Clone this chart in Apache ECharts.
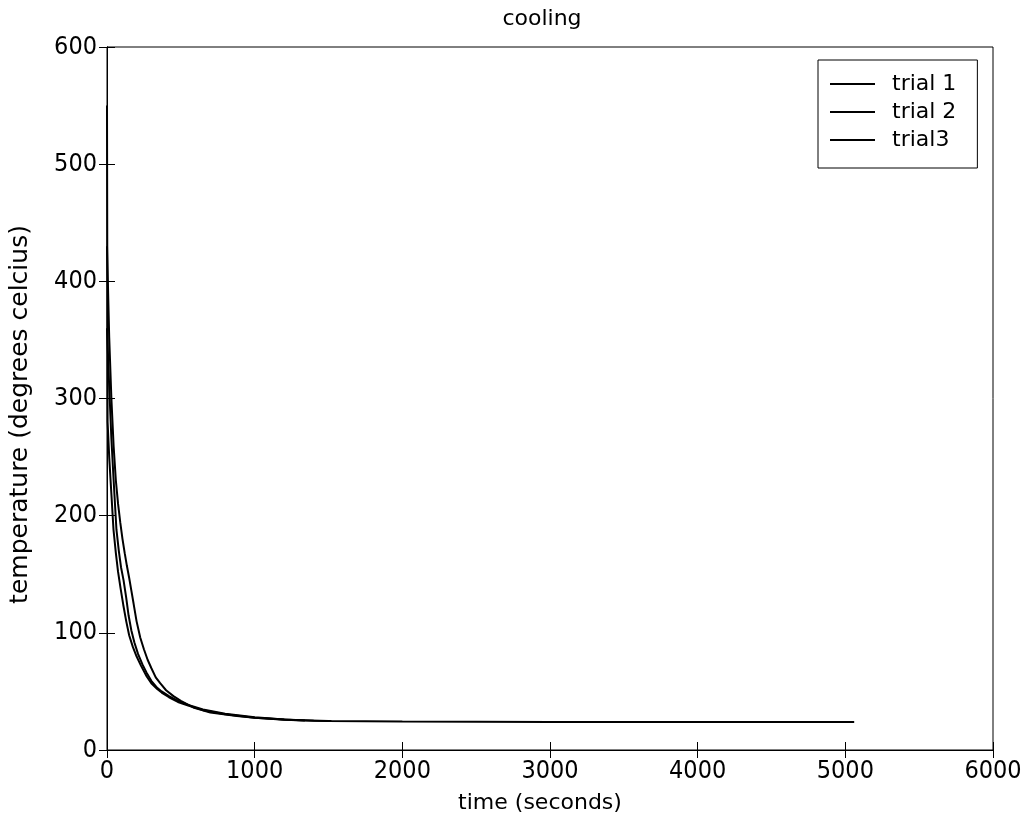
<!DOCTYPE html>
<html>
<head>
<meta charset="utf-8">
<script src="https://cdn.jsdelivr.net/npm/echarts@6/dist/echarts.min.js"></script>
<style>html,body{margin:0;padding:0;background:#fff;}#c{width:1025px;height:826px;}</style>
</head>
<body>
<div id="c"></div>
<script>
// ---- data (time in seconds, temperature in degrees celcius) ----
const seriesNames = ['trial 1', 'trial 2', 'trial3'];

const time1 = [0, 15, 30, 45, 60, 75, 90, 105, 120, 135, 150, 165, 180, 200, 225, 250, 275, 300, 330, 360, 400, 450, 500, 590, 700, 880, 1000, 1260, 1500, 2000, 3000, 4000, 5060];
const temp1 = [430, 352, 299, 259, 230, 210, 194, 180, 168, 157, 147, 136, 125, 110, 96, 86, 77, 70, 62, 57, 51, 46, 42, 36, 32, 29, 27.5, 25.5, 24.8, 24.3, 24, 24, 24];

const time2 = [0, 4, 15, 30, 44, 60, 75, 92, 110, 130, 150, 175, 200, 230, 268, 300, 340, 370, 420, 480, 550, 650, 800, 1000, 1200, 1340];
const temp2 = [550, 280, 250, 218, 188, 168, 152, 138, 124, 110, 98, 88, 80, 72, 63, 57, 52, 49, 45, 41, 38, 34, 30.5, 27.5, 25.8, 25.2];

const time3 = [0, 15, 30, 45, 64, 80, 95, 112, 130, 146, 165, 185, 210, 240, 268, 300, 340, 370, 420, 480, 550, 650, 800, 1000, 1200, 1400, 1520];
const temp3 = [360, 310, 265, 230, 188, 170, 156, 145, 130, 115, 102, 92, 82, 73, 66, 59, 53, 50, 46, 42, 38.5, 34.5, 31, 28, 26, 25, 24.8];

const titleText = 'cooling';
const xName = 'time (seconds)';
const yName = 'temperature (degrees celcius)';

function zip(t, v) { return t.map((x, i) => [x, v[i]]); }
const allData = [zip(time1, temp1), zip(time2, temp2), zip(time3, temp3)];

const tickFont = '"DejaVu Sans Condensed", "Liberation Sans", Arial, sans-serif';
const textFont = '"DejaVu Sans", "Liberation Sans", Arial, sans-serif';
const chart = echarts.init(document.getElementById('c'), null, { renderer: 'canvas' });

const gridPos = { left: 107, right: 32, top: 47, bottom: 76 };
const plain = v => String(v);

const option = {
  animation: false,
  backgroundColor: '#fff',
  title: {
    text: titleText,
    left: 537, top: 3,
    textAlign: 'center',
    textStyle: { fontFamily: textFont, fontSize: 22, fontWeight: 'normal', color: '#000' }
  },
  legend: {
    orient: 'vertical',
    left: 818, top: 60,
    padding: [13, 21, 17, 12],
    borderColor: '#000', borderWidth: 1,
    backgroundColor: '#fff',
    itemWidth: 45, itemHeight: 2, itemGap: 6,
    icon: 'rect',
    data: seriesNames,
    textStyle: { fontFamily: textFont, fontSize: 22, color: '#000', padding: [0, 0, 0, 12] }
  },
  grid: Object.assign({ show: true, borderColor: '#000', borderWidth: 1, containLabel: false }, gridPos),
  xAxis: [{
    type: 'value', min: 0, max: 6000, interval: 1000,
    position: 'bottom',
    name: xName, nameLocation: 'middle', nameGap: 42,
    nameTextStyle: { fontFamily: textFont, fontSize: 22, color: '#000', padding: [0, 20, 0, 0] },
    axisLine: { show: true, lineStyle: { color: '#000', width: 1 } },
    axisTick: { show: true, inside: true, length: 8, lineStyle: { color: '#000' } },
    axisLabel: { fontFamily: tickFont, fontSize: 25, color: '#000', margin: 9, formatter: plain },
    splitLine: { show: false }
  }, {
    type: 'value', min: 0, max: 6000, interval: 1000,
    position: 'top',
    axisLine: { show: true, lineStyle: { color: '#000', width: 1 } },
    axisTick: { show: true, inside: true, length: 8, lineStyle: { color: '#000' } },
    axisLabel: { show: false },
    splitLine: { show: false }
  }],
  yAxis: [{
    type: 'value', min: 0, max: 600, interval: 100,
    position: 'left',
    name: yName, nameLocation: 'middle', nameGap: 74,
    nameTextStyle: { fontFamily: textFont, fontSize: 25, color: '#000', padding: [0, 32, 0, 0] },
    axisLine: { show: true, lineStyle: { color: '#000', width: 1 } },
    axisTick: { show: true, inside: true, length: 8, lineStyle: { color: '#000' } },
    axisLabel: { fontFamily: tickFont, fontSize: 25, color: '#000', margin: 10, formatter: plain },
    splitLine: { show: false }
  }, {
    type: 'value', min: 0, max: 600, interval: 100,
    position: 'right',
    axisLine: { show: true, lineStyle: { color: '#000', width: 1 } },
    axisTick: { show: true, inside: true, length: 8, lineStyle: { color: '#000' } },
    axisLabel: { show: false },
    splitLine: { show: false }
  }],
  series: seriesNames.map((n, i) => ({
    name: n,
    type: 'line',
    data: allData[i],
    showSymbol: false,
    symbol: 'none',
    color: '#000',
    lineStyle: { color: '#000', width: 2 },
    xAxisIndex: 0, yAxisIndex: 0
  }))
};
chart.setOption(option);
</script>
</body>
</html>
